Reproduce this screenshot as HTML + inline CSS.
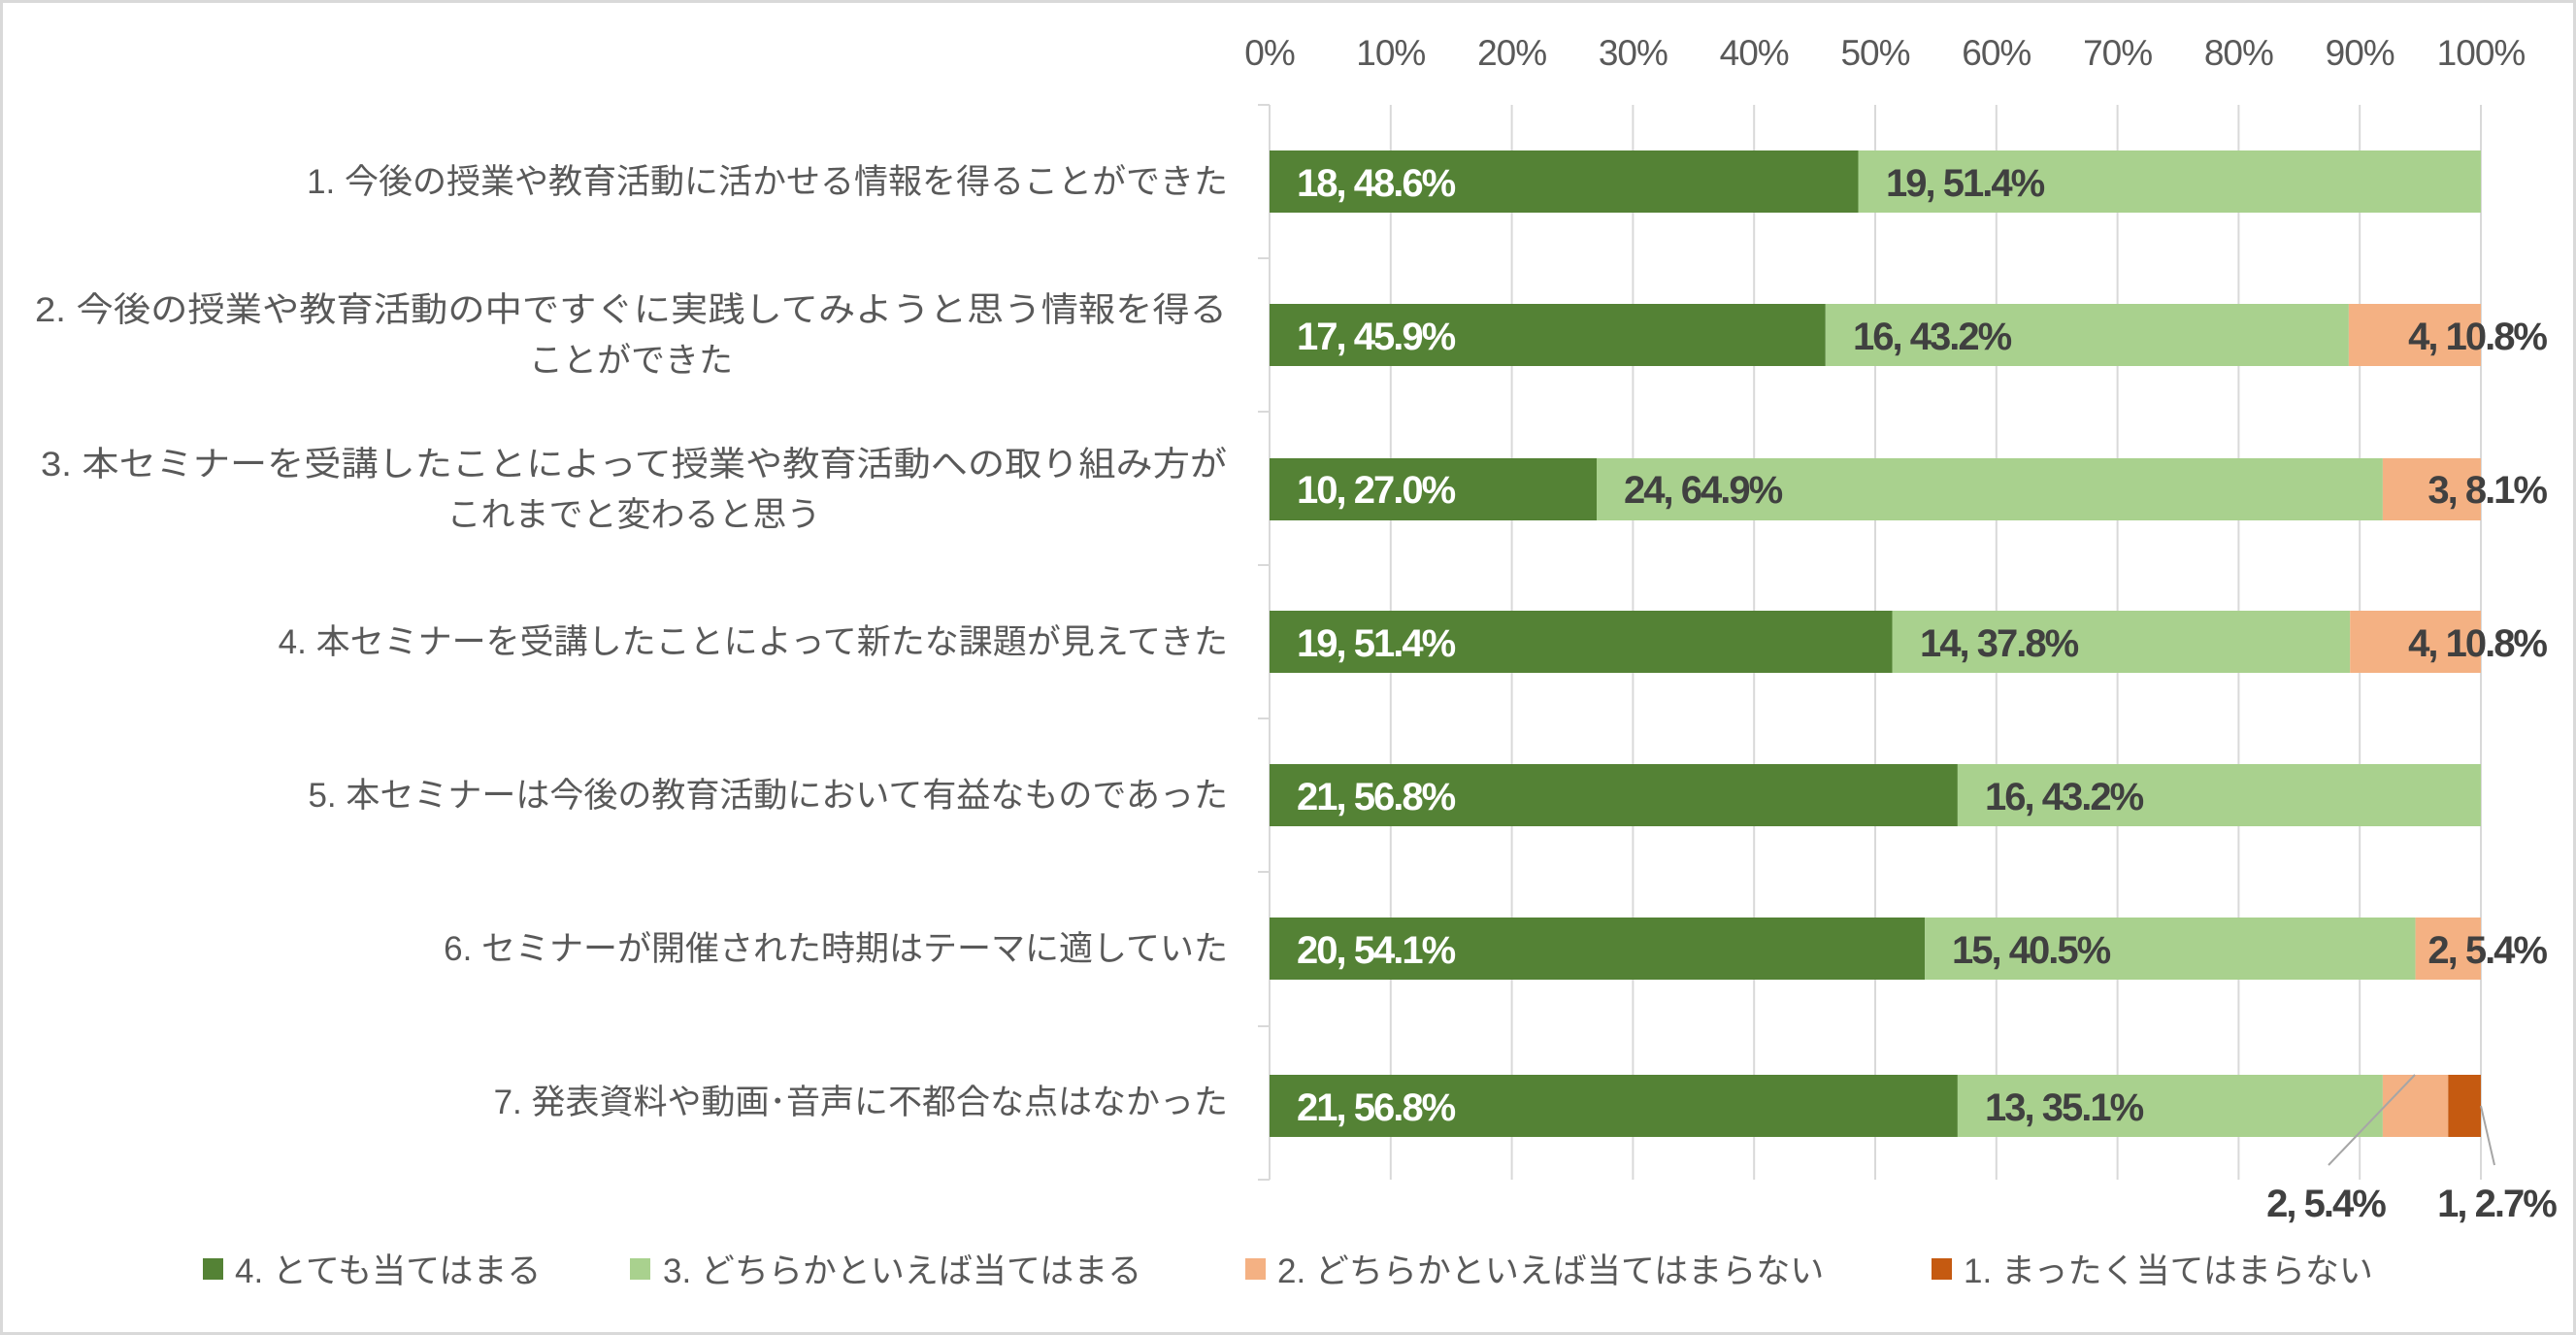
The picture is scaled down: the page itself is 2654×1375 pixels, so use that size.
<!DOCTYPE html>
<html><head><meta charset="utf-8"><style>
html,body{margin:0;padding:0;background:#fff}
svg{display:block}
text{font-family:"Liberation Sans","Noto Sans CJK JP",sans-serif}
.cat{font-size:35px;fill:#595959}
.tk{font-size:37px;fill:#595959;letter-spacing:-1px}
.dl{font-size:40px;font-weight:bold;fill:#404040;letter-spacing:-2px}
.dw{fill:#fff}
.lg{font-size:35px;fill:#595959}
</style></head><body>
<svg width="2654" height="1375" viewBox="0 0 2654 1375" xmlns="http://www.w3.org/2000/svg">
<rect x="1.5" y="1.5" width="2651" height="1372" fill="#fff" stroke="#d9d9d9" stroke-width="3"/>
<g stroke="#d9d9d9" stroke-width="2">
<line x1="1432.8" y1="108" x2="1432.8" y2="1215"/>
<line x1="1557.6" y1="108" x2="1557.6" y2="1215"/>
<line x1="1682.4" y1="108" x2="1682.4" y2="1215"/>
<line x1="1807.2" y1="108" x2="1807.2" y2="1215"/>
<line x1="1932" y1="108" x2="1932" y2="1215"/>
<line x1="2056.8" y1="108" x2="2056.8" y2="1215"/>
<line x1="2181.6" y1="108" x2="2181.6" y2="1215"/>
<line x1="2306.4" y1="108" x2="2306.4" y2="1215"/>
<line x1="2431.2" y1="108" x2="2431.2" y2="1215"/>
<line x1="2556" y1="108" x2="2556" y2="1215"/>
<line x1="1308" y1="108" x2="1308" y2="1215"/>
<line x1="1296" y1="108" x2="1308" y2="108"/>
<line x1="1296" y1="266" x2="1308" y2="266"/>
<line x1="1296" y1="424" x2="1308" y2="424"/>
<line x1="1296" y1="582" x2="1308" y2="582"/>
<line x1="1296" y1="740" x2="1308" y2="740"/>
<line x1="1296" y1="898" x2="1308" y2="898"/>
<line x1="1296" y1="1057" x2="1308" y2="1057"/>
<line x1="1296" y1="1215" x2="1308" y2="1215"/>
</g>
<g class="tk" text-anchor="middle">
<text x="1308" y="67">0%</text><text x="1432.8" y="67">10%</text><text x="1557.6" y="67">20%</text><text x="1682.4" y="67">30%</text><text x="1807.2" y="67">40%</text><text x="1932" y="67">50%</text><text x="2056.8" y="67">60%</text><text x="2181.6" y="67">70%</text><text x="2306.4" y="67">80%</text><text x="2431.2" y="67">90%</text><text x="2556" y="67">100%</text>
</g>
<g>
<rect x="1308" y="155" width="606.5" height="64" fill="#548235"/><rect x="1914.5" y="155" width="641.5" height="64" fill="#A9D18E"/>
<rect x="1308" y="313" width="572.8" height="64" fill="#548235"/><rect x="1880.8" y="313" width="539.1" height="64" fill="#A9D18E"/><rect x="2419.9" y="313" width="136.1" height="64" fill="#F4B183"/>
<rect x="1308" y="472" width="337" height="64" fill="#548235"/><rect x="1645" y="472" width="809.9" height="64" fill="#A9D18E"/><rect x="2454.9" y="472" width="101.1" height="64" fill="#F4B183"/>
<rect x="1308" y="629" width="641.5" height="64" fill="#548235"/><rect x="1949.5" y="629" width="471.7" height="64" fill="#A9D18E"/><rect x="2421.2" y="629" width="134.8" height="64" fill="#F4B183"/>
<rect x="1308" y="787" width="708.9" height="64" fill="#548235"/><rect x="2016.9" y="787" width="539.1" height="64" fill="#A9D18E"/>
<rect x="1308" y="945" width="675.2" height="64" fill="#548235"/><rect x="1983.2" y="945" width="505.4" height="64" fill="#A9D18E"/><rect x="2488.6" y="945" width="67.4" height="64" fill="#F4B183"/>
<rect x="1308" y="1107" width="708.9" height="64" fill="#548235"/><rect x="2016.9" y="1107" width="438" height="64" fill="#A9D18E"/><rect x="2454.9" y="1107" width="67.4" height="64" fill="#F4B183"/><rect x="2522.3" y="1107" width="33.7" height="64" fill="#C55A11"/>
</g>
<g class="dl">
<text class="dl dw" x="1336" y="202">18, 48.6%</text><text x="1943" y="202">19, 51.4%</text>
<text class="dl dw" x="1336" y="360">17, 45.9%</text><text x="1909" y="360">16, 43.2%</text><text x="2623" y="360" text-anchor="end">4, 10.8%</text>
<text class="dl dw" x="1336" y="518">10, 27.0%</text><text x="1673" y="518">24, 64.9%</text><text x="2623" y="518" text-anchor="end">3, 8.1%</text>
<text class="dl dw" x="1336" y="676">19, 51.4%</text><text x="1978" y="676">14, 37.8%</text><text x="2623" y="676" text-anchor="end">4, 10.8%</text>
<text class="dl dw" x="1336" y="834">21, 56.8%</text><text x="2045" y="834">16, 43.2%</text>
<text class="dl dw" x="1336" y="992">20, 54.1%</text><text x="2011" y="992">15, 40.5%</text><text x="2623" y="992" text-anchor="end">2, 5.4%</text>
<text class="dl dw" x="1336" y="1154">21, 56.8%</text><text x="2045" y="1154">13, 35.1%</text>
<text x="2396" y="1253" text-anchor="middle">2, 5.4%</text><text x="2572" y="1253" text-anchor="middle">1, 2.7%</text>
</g>
<g stroke="#a6a6a6" stroke-width="2">
<line x1="2488" y1="1107" x2="2399" y2="1200"/>
<line x1="2556" y1="1139" x2="2570" y2="1200"/>
</g>
<g class="cat" text-anchor="end">
<text x="1265" y="199">1. 今後の授業や教育活動に活かせる情報を得ることができた</text>
<text x="1265" y="673">4. 本セミナーを受講したことによって新たな課題が見えてきた</text>
<text x="1265" y="831">5. 本セミナーは今後の教育活動において有益なものであった</text>
<text x="1265" y="989">6. セミナーが開催された時期はテーマに適していた</text>
<text x="1265" y="1147">7. 発表資料や動画･音声に不都合な点はなかった</text>
</g>
<g class="cat" text-anchor="middle">
<text x="650" y="331" textLength="1228" lengthAdjust="spacingAndGlyphs">2. 今後の授業や教育活動の中ですぐに実践してみようと思う情報を得る</text>
<text x="650" y="383">ことができた</text>
<text x="653" y="490" textLength="1222" lengthAdjust="spacingAndGlyphs">3. 本セミナーを受講したことによって授業や教育活動への取り組み方が</text>
<text x="653" y="542">これまでと変わると思う</text>
</g>
<g>
<rect x="209" y="1296" width="21" height="22" fill="#548235"/><text class="lg" x="242" y="1321">4. とても当てはまる</text>
<rect x="649" y="1296" width="21" height="22" fill="#A9D18E"/><text class="lg" x="683" y="1321">3. どちらかといえば当てはまる</text>
<rect x="1283" y="1296" width="21" height="22" fill="#F4B183"/><text class="lg" x="1316" y="1321">2. どちらかといえば当てはまらない</text>
<rect x="1990" y="1296" width="21" height="22" fill="#C55A11"/><text class="lg" x="2023" y="1321">1. まったく当てはまらない</text>
</g>
</svg>
</body></html>
